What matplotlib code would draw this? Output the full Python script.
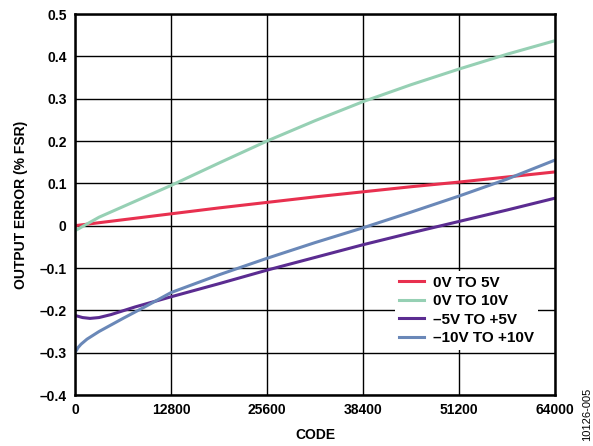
import matplotlib
matplotlib.use('Agg')
import matplotlib.pyplot as plt
from matplotlib.ticker import FuncFormatter

plt.rcParams['font.family'] = ['Liberation Sans', 'DejaVu Sans']
plt.rcParams['font.weight'] = 'bold'

# codes and output error (% FSR)
codes_0_5 = [0, 3200, 6400, 12800, 19200, 25600, 32000, 38400, 44800, 51200, 57600, 64000]
err_0_5 = [0.000, 0.007, 0.014, 0.028, 0.042, 0.055, 0.068, 0.080, 0.092, 0.103, 0.115, 0.127]

codes_0_10 = [0, 3200, 6400, 12800, 19200, 25600, 32000, 38400, 44800, 51200, 57600, 64000]
err_0_10 = [-0.012, 0.020, 0.045, 0.095, 0.148, 0.200, 0.248, 0.293, 0.333, 0.370, 0.405, 0.437]

codes_pm5 = [0, 1000, 2000, 3200, 4800, 8000, 12800, 19200, 25600, 32000, 38400, 44800, 51200, 57600, 64000]
err_pm5 = [-0.212, -0.217, -0.219, -0.217, -0.210, -0.192, -0.168, -0.137, -0.105, -0.075, -0.045, -0.017, 0.010, 0.037, 0.065]

codes_pm10 = [0, 400, 800, 1600, 3200, 6400, 9600, 12800, 19200, 25600, 32000, 38400, 44800, 51200, 57600, 64000]
err_pm10 = [-0.300, -0.288, -0.280, -0.268, -0.250, -0.219, -0.189, -0.158, -0.116, -0.077, -0.040, -0.005, 0.032, 0.070, 0.110, 0.155]

labels = ['0V TO 5V', '0V TO 10V', '\u20135V TO +5V', '\u201310V TO +10V']
colors = ['#e8304f', '#96d0b4', '#5b2c91', '#6a88b8']

fig = plt.figure(figsize=(5.93, 4.46), dpi=100)
ax = fig.add_axes([0.1265, 0.1143, 0.8095, 0.8543])

ax.plot(codes_0_5, err_0_5, color=colors[0], lw=2.2, label=labels[0])
ax.plot(codes_0_10, err_0_10, color=colors[1], lw=2.2, label=labels[1])
ax.plot(codes_pm5, err_pm5, color=colors[2], lw=2.2, label=labels[2])
ax.plot(codes_pm10, err_pm10, color=colors[3], lw=2.2, label=labels[3])

ax.set_xlim(0, 64000)
ax.set_ylim(-0.4, 0.5)
ax.set_xticks([0, 12800, 25600, 38400, 51200, 64000])
ax.set_yticks([-0.4, -0.3, -0.2, -0.1, 0, 0.1, 0.2, 0.3, 0.4, 0.5])

def yfmt(v, pos):
    if abs(v) < 1e-9:
        return '0'
    s = '%.1f' % abs(v)
    return ('\u2013' + s) if v < 0 else s

ax.yaxis.set_major_formatter(FuncFormatter(yfmt))
ax.grid(True, color='black', lw=1.0)
ax.set_axisbelow(True)
ax.tick_params(length=0, labelsize=10, pad=6)
for sp in ax.spines.values():
    sp.set_linewidth(1.8)

ax.set_xlabel('CODE', fontsize=10, fontweight='bold', labelpad=8)
ax.set_ylabel('OUTPUT ERROR (% FSR)', fontsize=10, fontweight='bold', labelpad=8)

leg = ax.legend(loc='center', bbox_to_anchor=(0.8156, 0.222), frameon=True,
                fontsize=11, handlelength=1.6, handletextpad=0.6,
                labelspacing=0.3, borderpad=0.3)
leg.get_frame().set_edgecolor('none')
leg.get_frame().set_facecolor('white')
leg.get_frame().set_alpha(1)
for t in leg.get_texts():
    t.set_fontweight('bold')

fig.text(0.990, 0.07, '10126-005', rotation=90, fontsize=8, fontweight='normal',
         ha='center', va='center')

fig.savefig('out.png', dpi=100)
